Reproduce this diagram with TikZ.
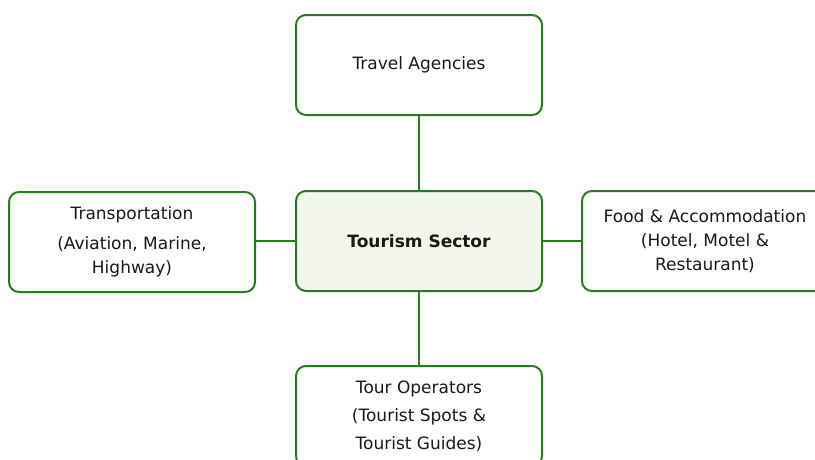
\documentclass[tikz,border=0pt]{standalone}
\usepackage{fontspec}
\setmainfont{DejaVu Sans}
\definecolor{boxgreen}{RGB}{38,125,28}
\definecolor{centerfill}{RGB}{242,246,236}
\begin{document}
\begin{tikzpicture}[x=1pt,y=-1pt,
  box/.style={draw=boxgreen, line width=2pt, rounded corners=10pt, fill=white,
    minimum width=246pt, minimum height=100pt, inner sep=0pt, align=center,
    font=\fontsize{17}{24}\selectfont, text=black!90},
  link/.style={draw=boxgreen, line width=2pt}]
\clip (0,0) rectangle (815,459);
\fill[white] (0,0) rectangle (815,459);
\node[box] (travel) at (419,65) {Travel Agencies};
\node[box, fill=centerfill, font=\fontsize{17}{24}\bfseries\selectfont] (center) at (419,241) {Tourism Sector};
\node[box] (transport) at (132,242) {Transportation\\[6pt](Aviation, Marine,\\Highway)};
\node[box] (food) at (705,241) {Food \& Accommodation\\(Hotel, Motel \&\\Restaurant)};
\node[box, font=\fontsize{17}{28}\selectfont] (tour) at (419,416) {Tour Operators\\(Tourist Spots \&\\Tourist Guides)};
\draw[link] (center) -- (travel);
\draw[link] (center.west) -- (transport.east |- center.west);
\draw[link] (center) -- (food);
\draw[link] (center) -- (tour);
\end{tikzpicture}
\end{document}
